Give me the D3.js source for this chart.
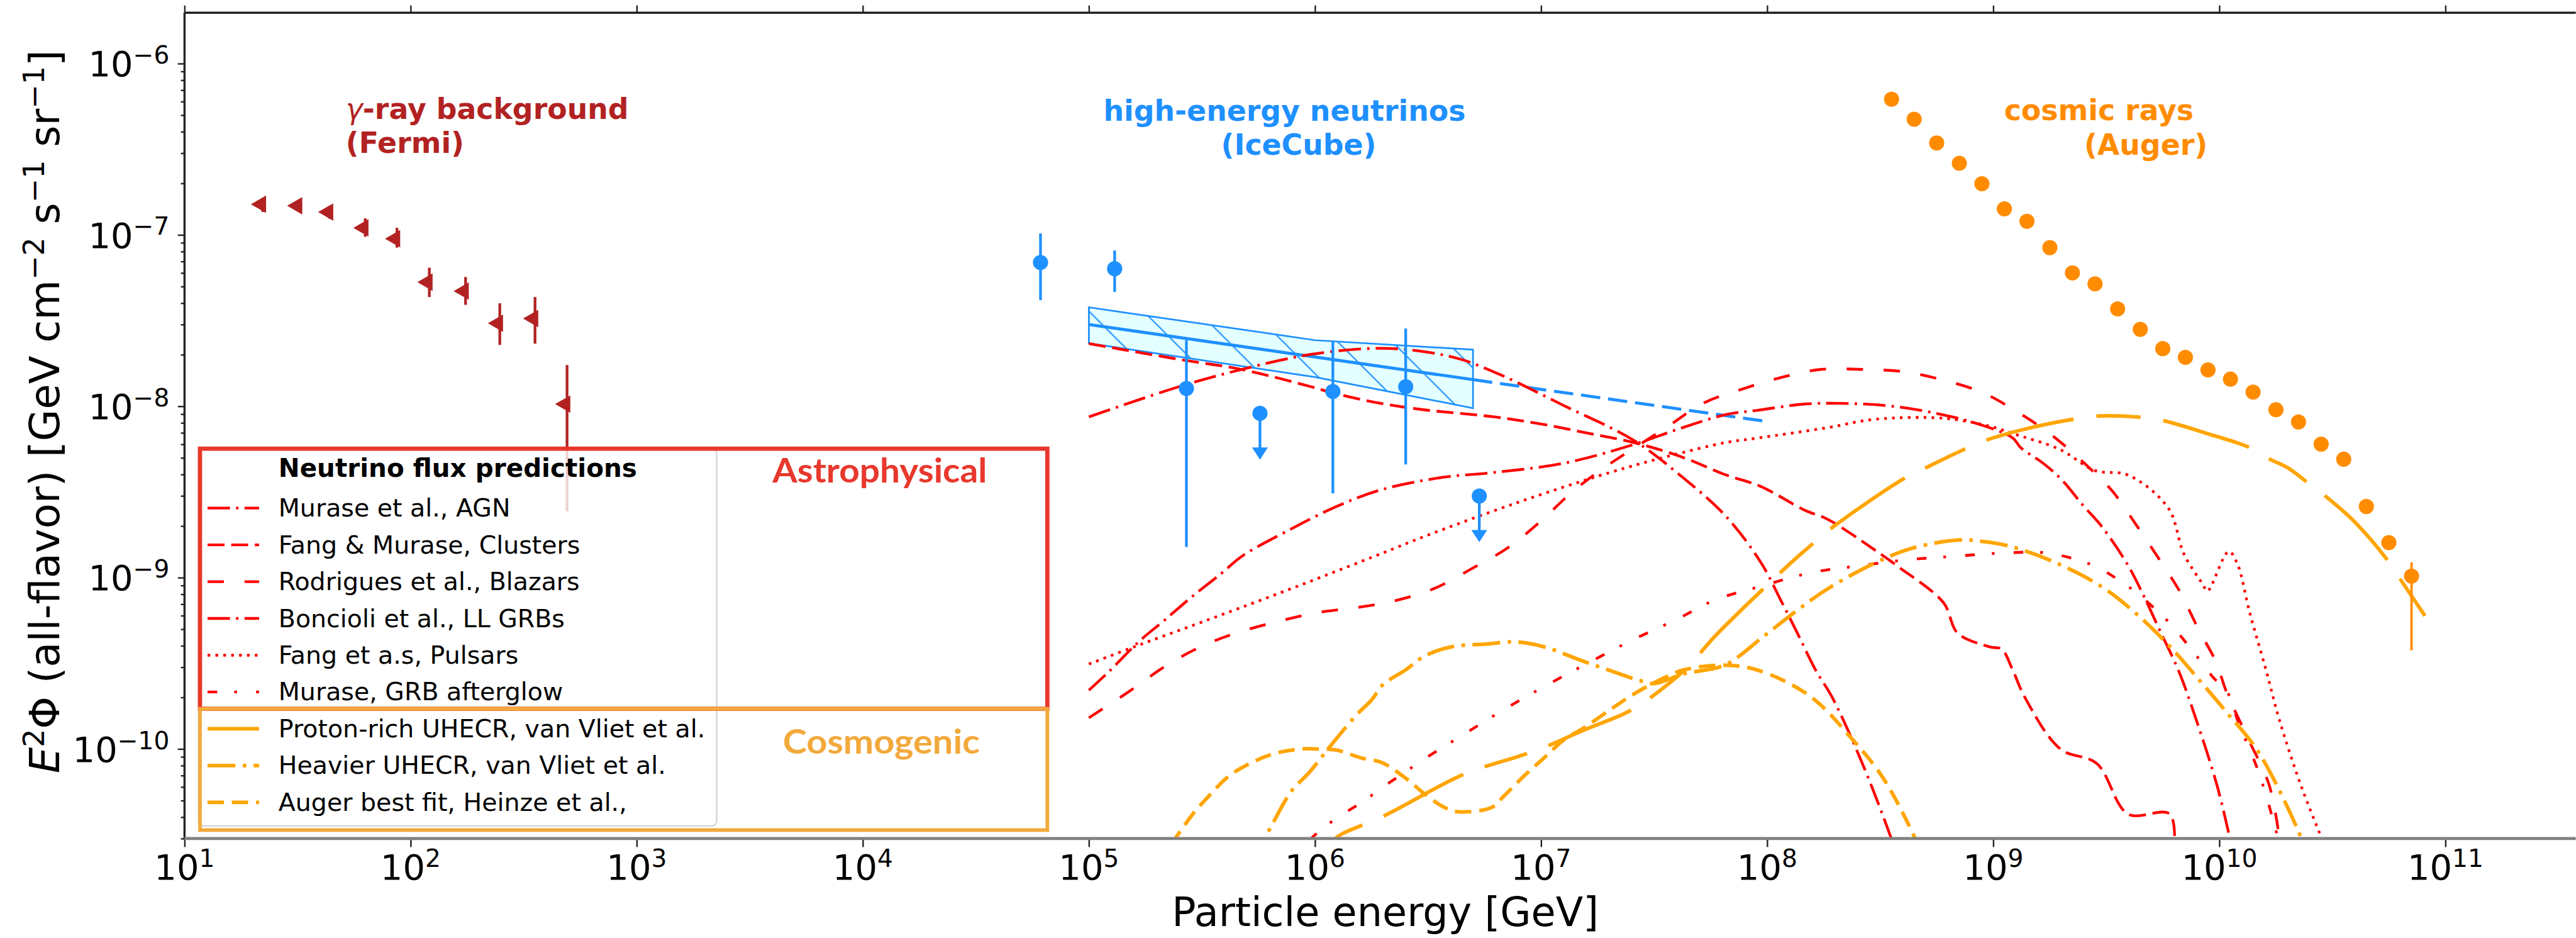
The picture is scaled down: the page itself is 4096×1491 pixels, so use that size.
<!DOCTYPE html>
<html>
<head>
<meta charset="utf-8">
<script src="https://cdn.jsdelivr.net/npm/d3@7/dist/d3.min.js"></script>
<style>
html, body { margin: 0; padding: 0; background: #ffffff; overflow: hidden; }
svg { display: block; }
</style>
</head>
<body>
<svg id="chart"></svg>
<script>
// ---------------------------------------------------------------
// Data: energies in GeV, fluxes E^2 Phi in GeV cm^-2 s^-1 sr^-1
// ---------------------------------------------------------------
const xTickExponents = [1, 2, 3, 4, 5, 6, 7, 8, 9, 10, 11];
const yTickExponents = [-10, -9, -8, -7, -6];

// Fermi isotropic gamma-ray background
const fermiE    = [22.2, 32.1, 44.0, 63.0, 87.0, 121, 175, 248, 355, 492];
const fermiFlux = [1.51e-7, 1.48e-7, 1.36e-7, 1.10e-7, 9.5e-8, 5.3e-8, 4.7e-8, 3.05e-8, 3.25e-8, 1.03e-8];
const fermiHi   = [1.64e-7, 1.60e-7, 1.48e-7, 1.25e-7, 1.10e-7, 6.44e-8, 5.68e-8, 3.99e-8, 4.34e-8, 1.74e-8];
const fermiLo   = [1.36e-7, 1.36e-7, 1.24e-7, 9.75e-8, 8.43e-8, 4.34e-8, 3.91e-8, 2.28e-8, 2.32e-8, 2.43e-9];

// IceCube high-energy starting events (upper limits flagged)
const icE     = [6.11e4, 1.30e5, 2.70e5, 5.71e5, 1.20e6, 2.52e6, 5.33e6];
const icFlux  = [6.90e-8, 6.35e-8, 1.27e-8, 9.10e-9, 1.22e-8, 1.30e-8, 2.99e-9];
const icHi    = [1.02e-7, 8.11e-8, 2.43e-8, null, 2.39e-8, 2.84e-8, null];
const icLo    = [4.16e-8, 4.65e-8, 1.51e-9, 4.88e-9, 3.10e-9, 4.58e-9, 1.61e-9];
const icUpper = [false, false, false, true, false, false, true];

// IceCube power-law fit band and its extrapolation
const bandE     = [1e5, 1e6, 5e6];
const bandUpper = [3.78e-8, 2.43e-8, 2.14e-8];
const bandLower = [2.33e-8, 1.48e-8, 9.75e-9];
const fitE      = [1e5, 5e6];
const fitFlux   = [3.0e-8, 1.43e-8];
const extE      = [5e6, 1e8];
const extFlux   = [1.43e-8, 8.15e-9];

// Pierre Auger cosmic-ray spectrum
const augerE    = [3.55e8, 4.47e8, 5.62e8, 7.08e8, 8.91e8, 1.12e9, 1.41e9, 1.78e9, 2.24e9, 2.82e9, 3.55e9, 4.47e9,
                   5.62e9, 7.08e9, 8.91e9, 1.12e10, 1.41e10, 1.78e10, 2.24e10, 2.82e10, 3.55e10, 4.47e10, 5.62e10, 7.08e10];
const augerFlux = [6.19e-7, 4.73e-7, 3.44e-7, 2.62e-7, 1.99e-7, 1.42e-7, 1.20e-7, 8.43e-8, 6.00e-8, 5.18e-8, 3.70e-8, 2.81e-8,
                   2.17e-8, 1.93e-8, 1.63e-8, 1.44e-8, 1.21e-8, 9.55e-9, 8.09e-9, 6.01e-9, 4.91e-9, 2.60e-9, 1.60e-9, 1.02e-9];
const augerHi   = [null, null, null, null, null, null, null, null, null, null, null, null,
                   null, null, null, null, null, null, null, null, null, null, null, 1.23e-9];
const augerLo   = [null, null, null, null, null, null, null, null, null, null, null, null,
                   null, null, null, null, null, null, null, null, null, null, null, 3.76e-10];

// Astrophysical neutrino flux predictions
const agnE    = [1.00e5, 2.50e5, 4.74e5, 9.62e5, 1.95e6, 3.05e6, 4.36e6, 6.67e6, 1.26e7, 2.56e7, 4.11e7, 6.59e7,
                 9.40e7, 1.15e8, 1.36e8, 1.64e8, 1.94e8, 2.63e8, 3.52e8, 3.98e8];
const agnFlux = [8.67e-9, 1.30e-8, 1.64e-8, 2.01e-8, 2.18e-8, 2.08e-8, 1.89e-8, 1.52e-8, 1.01e-8, 6.35e-9, 3.97e-9, 2.27e-9,
                 1.22e-9, 7.36e-10, 4.75e-10, 2.88e-10, 2.00e-10, 8.3e-11, 3.07e-11, 1.9e-11];

const clustersE    = [1.00e5, 2.62e5, 4.74e5, 9.62e5, 1.22e6, 1.95e6, 3.05e6, 6.21e6, 9.95e6, 1.60e7, 2.56e7, 4.11e7,
                      6.59e7, 9.40e7, 1.46e8, 1.85e8, 2.97e8, 3.76e8, 6.03e8, 6.95e8, 9.68e8, 1.09e9, 1.22e9, 1.38e9,
                      1.98e9, 2.87e9, 3.95e9, 6.04e9, 6.21e9];
const clustersFlux = [2.32e-8, 1.86e-8, 1.64e-8, 1.30e-8, 1.19e-8, 1.04e-8, 9.53e-9, 8.67e-9, 7.89e-9, 6.98e-9, 6.15e-9, 5.11e-9,
                      3.97e-9, 3.40e-9, 2.48e-9, 2.19e-9, 1.46e-9, 1.17e-9, 7.13e-10, 4.75e-10, 3.94e-10, 3.82e-10, 2.88e-10, 2.00e-10,
                      1.00e-10, 8.22e-11, 4.16e-11, 4.16e-11, 2.0e-11];

const blazarsE    = [1.00e5, 1.51e5, 2.15e5, 3.11e5, 4.51e5, 6.81e5, 1.03e6, 1.55e6, 2.29e6, 3.39e6, 5.01e6, 7.11e6,
                     9.95e6, 1.35e7, 1.84e7, 3.66e7, 5.20e7, 7.76e7, 1.15e8, 1.72e8, 2.64e8, 4.04e8, 6.03e8, 8.99e8,
                     1.29e9, 1.83e9, 2.81e9, 3.37e9, 4.26e9, 5.40e9, 6.67e9, 8.05e9, 9.72e9, 1.07e10, 1.34e10, 1.66e10, 1.84e10];
const blazarsFlux = [1.52e-10, 2.17e-10, 3.01e-10, 3.94e-10, 4.76e-10, 5.53e-10, 6.25e-10, 6.70e-10, 7.36e-10, 8.67e-10, 1.14e-9, 1.49e-9,
                     2.13e-9, 3.10e-9, 4.25e-9, 7.66e-9, 1.04e-8, 1.26e-8, 1.47e-8, 1.64e-8, 1.64e-8, 1.59e-8, 1.42e-8, 1.20e-8,
                     9.20e-9, 6.73e-9, 4.08e-9, 3.19e-9, 2.06e-9, 1.29e-9, 8.34e-10, 5.06e-10, 3.17e-10, 2.19e-10, 1.15e-10, 6.18e-11, 3.07e-11];

const llgrbE    = [1.00e5, 1.23e5, 1.68e5, 2.15e5, 2.87e5, 3.83e5, 4.74e5, 7.59e5, 1.22e6, 1.95e6, 3.68e6, 6.21e6,
                   1.26e7, 2.56e7, 4.11e7, 6.59e7, 9.12e7, 1.46e8, 2.08e8, 3.34e8, 5.36e8, 8.61e8, 1.22e9, 1.32e9,
                   1.67e9, 2.01e9, 2.49e9, 3.01e9, 3.96e9, 4.68e9, 5.46e9, 6.59e9, 7.89e9, 9.75e9, 1.11e10];
const llgrbFlux = [2.20e-10, 2.84e-10, 4.28e-10, 5.61e-10, 7.78e-10, 1.05e-9, 1.33e-9, 1.88e-9, 2.57e-9, 3.25e-9, 3.85e-9, 4.11e-9,
                   4.65e-9, 5.97e-9, 7.41e-9, 8.95e-9, 9.48e-9, 1.03e-8, 1.04e-8, 1.01e-8, 9.20e-9, 7.87e-9, 6.53e-9, 5.75e-9,
                   4.63e-9, 3.72e-9, 2.65e-9, 2.00e-9, 1.17e-9, 7.59e-10, 4.90e-10, 2.88e-10, 1.49e-10, 6.18e-11, 3.07e-11];

const pulsarsE    = [1.00e5, 1.68e5, 3.11e5, 7.10e5, 1.99e6, 3.05e6, 7.85e6, 2.02e7, 3.66e7, 6.59e7, 9.12e7, 1.85e8,
                     2.96e8, 6.03e8, 9.68e8, 1.22e9, 1.97e9, 2.81e9, 3.96e9, 5.93e9, 6.98e9, 8.45e9, 8.85e9, 1.10e10,
                     1.20e10, 1.36e10, 1.61e10, 1.84e10, 2.29e10, 2.82e10];
const pulsarsFlux = [3.13e-10, 4.06e-10, 5.46e-10, 8.20e-10, 1.39e-9, 1.74e-9, 2.74e-9, 4.11e-9, 5.11e-9, 6.15e-9, 6.53e-9, 7.50e-9,
                     8.38e-9, 8.51e-9, 7.64e-9, 6.93e-9, 5.60e-9, 4.22e-9, 3.96e-9, 2.56e-9, 1.37e-9, 9.14e-10, 8.34e-10, 1.42e-9,
                     1.21e-9, 6.31e-10, 2.88e-10, 1.49e-10, 6.18e-11, 3.07e-11];

const afterglowE    = [9.46e5, 1.09e6, 1.32e6, 1.63e6, 1.99e6, 2.42e6, 3.09e6, 4.66e6, 7.11e6, 1.08e7, 1.64e7, 2.55e7,
                       3.96e7, 5.85e7, 9.40e7, 1.57e8, 2.52e8, 4.14e8, 6.64e8, 1.09e9, 1.75e9, 2.81e9, 3.30e9, 4.21e9,
                       6.00e9, 6.82e9, 8.17e9, 9.18e9, 1.12e10, 1.20e10, 1.49e10, 1.75e10, 1.84e10];
const afterglowFlux = [2.94e-11, 3.47e-11, 4.14e-11, 4.93e-11, 5.97e-11, 7.11e-11, 8.85e-11, 1.24e-10, 1.75e-10, 2.39e-10, 3.21e-10, 4.34e-10,
                       5.69e-10, 7.38e-10, 8.91e-10, 1.07e-9, 1.17e-9, 1.27e-9, 1.33e-9, 1.39e-9, 1.39e-9, 1.17e-9, 1.04e-9, 8.34e-10,
                       5.47e-10, 4.48e-10, 3.32e-10, 2.71e-10, 2.00e-10, 1.49e-10, 7.36e-11, 3.64e-11, 2.82e-11];

// Cosmogenic neutrino flux predictions
const protonE    = [1.21e6, 1.32e6, 1.99e6, 4.16e6, 5.22e6, 8.04e6, 1.01e7, 1.55e7, 2.34e7, 2.88e7, 4.35e7, 5.85e7,
                    9.18e7, 1.30e8, 1.55e8, 1.85e8, 3.94e8, 4.88e8, 7.38e8, 9.25e8, 1.47e9, 2.24e9, 2.85e9, 4.47e9,
                    5.65e9, 8.85e9, 1.36e10, 1.67e10, 2.02e10, 2.44e10, 2.99e10, 3.96e10, 5.58e10, 6.43e10, 8.24e10];
const protonFlux = [2.95e-11, 3.20e-11, 4.03e-11, 6.75e-11, 7.62e-11, 9.10e-11, 1.01e-10, 1.29e-10, 1.61e-10, 1.89e-10, 2.92e-10, 4.52e-10,
                    8.11e-10, 1.25e-9, 1.53e-9, 1.87e-9, 3.72e-9, 4.29e-9, 5.58e-9, 6.32e-9, 7.50e-9, 8.38e-9, 8.77e-9, 8.63e-9,
                    8.24e-9, 6.93e-9, 5.75e-9, 4.92e-9, 4.35e-9, 3.61e-9, 2.94e-9, 2.12e-9, 1.25e-9, 9.44e-10, 5.82e-10];

const heavierE    = [5.77e5, 6.53e5, 7.85e5, 9.46e5, 1.19e6, 1.52e6, 1.79e6, 1.99e6, 2.54e6, 3.05e6, 3.99e6, 5.78e6,
                     7.40e6, 8.55e6, 1.07e7, 1.49e7, 2.11e7, 2.82e7, 3.19e7, 4.29e7, 6.46e7, 9.79e7, 1.33e8, 1.85e8,
                     2.97e8, 4.34e8, 7.13e8, 8.81e8, 1.17e9, 1.87e9, 3.01e9, 4.26e9, 6.07e9, 8.36e9, 1.08e10, 1.49e10, 2.29e10, 2.43e10];
const heavierFlux = [2.72e-11, 3.71e-11, 5.65e-11, 7.33e-11, 1.07e-10, 1.57e-10, 1.95e-10, 2.36e-10, 2.92e-10, 3.48e-10, 3.94e-10, 4.10e-10,
                     4.22e-10, 4.16e-10, 3.89e-10, 3.30e-10, 2.81e-10, 2.48e-10, 2.41e-10, 2.75e-10, 3.08e-10, 4.61e-10, 6.31e-10, 8.59e-10,
                     1.21e-9, 1.48e-9, 1.66e-9, 1.63e-9, 1.53e-9, 1.23e-9, 8.87e-10, 6.21e-10, 3.94e-10, 2.43e-10, 1.63e-10, 9.59e-11, 3.07e-11, 2.40e-11];

const augerFitE    = [2.29e5, 2.87e5, 3.38e5, 4.15e5, 5.21e5, 6.53e5, 8.71e5, 1.03e6, 1.24e6, 1.61e6, 1.99e6, 2.59e6,
                      3.00e6, 3.68e6, 4.25e6, 6.03e6, 6.82e6, 8.38e6, 1.03e7, 1.26e7, 1.55e7, 2.03e7, 2.60e7, 3.54e7,
                      4.35e7, 6.46e7, 9.12e7, 1.55e8, 2.38e8, 3.26e8, 4.48e8, 4.83e8];
const augerFitFlux = [2.72e-11, 4.14e-11, 5.28e-11, 6.93e-11, 8.28e-11, 9.35e-11, 1.00e-10, 1.00e-10, 9.86e-11, 8.85e-11, 8.30e-11, 6.56e-11,
                      5.57e-11, 4.61e-11, 4.31e-11, 4.55e-11, 5.28e-11, 6.93e-11, 8.85e-11, 1.13e-10, 1.33e-10, 1.70e-10, 2.11e-10, 2.62e-10,
                      2.91e-10, 3.08e-10, 2.88e-10, 2.03e-10, 1.14e-10, 6.76e-11, 3.07e-11, 2.40e-11];

const legendTitle  = "Neutrino flux predictions";
const legendLabels = ["Murase et al., AGN", "Fang & Murase, Clusters", "Rodrigues et al., Blazars",
                      "Boncioli et al., LL GRBs", "Fang et a.s, Pulsars", "Murase, GRB afterglow",
                      "Proton-rich UHECR, van Vliet et al.", "Heavier UHECR, van Vliet et al.", "Auger best fit, Heinze et al.,"];

// ---------------------------------------------------------------
// Styling
// ---------------------------------------------------------------
const RED = "#ff0000", ORANGE = "#ffa500", BLUE = "#1e90ff", FERMI = "#b22222", AUGER = "#ff8c00";
const FONT = "'DejaVu Sans', 'Noto Sans', sans-serif";

const styles = {
  agn:       { color: RED,    width: 4.5, dash: [37, 10, 4, 10] },
  clusters:  { color: RED,    width: 4.5, dash: [28, 11] },
  blazars:   { color: RED,    width: 4.5, dash: [27, 34] },
  llgrb:     { color: RED,    width: 4.5, dash: [37, 10, 4, 10] },
  pulsars:   { color: RED,    width: 4.5, dash: [4.5, 8.5] },
  afterglow: { color: RED,    width: 4.5, dash: [16, 28, 4.5, 31.5] },
  proton:    { color: ORANGE, width: 6,   dash: [148, 38, 73, 38], anchorE: 5.65e9 },
  heavier:   { color: ORANGE, width: 6,   dash: [46, 12, 6, 12], anchorE: 5.48e8 },
  augerFit:  { color: ORANGE, width: 6,   dash: [27, 13], anchorE: 4.16e6 }
};

const redSeries = [
  { E: agnE, F: agnFlux, st: styles.agn },
  { E: clustersE, F: clustersFlux, st: styles.clusters },
  { E: blazarsE, F: blazarsFlux, st: styles.blazars },
  { E: llgrbE, F: llgrbFlux, st: styles.llgrb },
  { E: pulsarsE, F: pulsarsFlux, st: styles.pulsars },
  { E: afterglowE, F: afterglowFlux, st: styles.afterglow }
];
const orangeSeries = [
  { E: protonE, F: protonFlux, st: styles.proton },
  { E: heavierE, F: heavierFlux, st: styles.heavier },
  { E: augerFitE, F: augerFitFlux, st: styles.augerFit }
];
const legendStyles = [styles.agn, styles.clusters, styles.blazars, styles.llgrb, styles.pulsars,
                      styles.afterglow, styles.proton, styles.heavier, styles.augerFit];

// ---------------------------------------------------------------
// Canvas and scales (drawn in a 4249 x 1547 frame, scaled to the window)
// ---------------------------------------------------------------
const W = 4249, H = 1547;
const svg = d3.select("#chart")
  .attr("width", 4096).attr("height", 1491)
  .attr("viewBox", `0 0 ${W} ${H}`)
  .attr("font-family", FONT);

svg.append("rect").attr("width", W).attr("height", H).attr("fill", "#ffffff");

const plot = { left: 304, top: 21, bottom: 1383 };
const x = d3.scaleLog().domain([10, 1e11]).range([304, 4034]);
const y = d3.scaleLog().domain([3e-11, 1.98e-6]).range([plot.bottom, plot.top]);

const defs = svg.append("defs");
defs.append("clipPath").attr("id", "plotClip").append("rect")
  .attr("x", plot.left).attr("y", plot.top)
  .attr("width", W - plot.left).attr("height", plot.bottom - plot.top);

const hatch = defs.append("pattern").attr("id", "hatch")
  .attr("patternUnits", "userSpaceOnUse")
  .attr("x", 22.8).attr("y", 0).attr("width", 90).attr("height", 90);
hatch.append("path")
  .attr("d", "M-10,-10L100,100M80,-10L100,10M-10,80L10,100")
  .attr("stroke", BLUE).attr("stroke-width", 2.2).attr("fill", "none");

// helper: text with superscripts
function richText(sel, segs, shift) {
  let raised = false;
  segs.forEach(s => {
    const ts = sel.append("tspan").text(s.t);
    if (s.sup) {
      ts.attr("font-size", "70%");
      if (!raised) { ts.attr("dy", -shift); raised = true; }
    } else if (raised) {
      ts.attr("dy", shift); raised = false;
    }
    if (s.italic) ts.attr("font-style", "italic");
  });
}
const pow10 = e => ([{ t: "10" }, { t: String(e).replace("-", "\u2212"), sup: true }]);

// ---------------------------------------------------------------
// Axes
// ---------------------------------------------------------------
const xDecades = xTickExponents.map(e => Math.pow(10, e));
const yDecades = yTickExponents.map(e => Math.pow(10, e));
const yMinor = [];
for (let e = -11; e <= -6; e++) for (let m = 2; m <= 9; m++) {
  const v = m * Math.pow(10, e);
  if (v >= y.domain()[0] && v <= y.domain()[1]) yMinor.push(v);
}

const gxb = svg.append("g").attr("transform", `translate(0,${plot.bottom})`)
  .call(d3.axisBottom(x).tickValues(xDecades).tickSize(14).tickSizeOuter(0).tickFormat(""));
const gxt = svg.append("g").attr("transform", `translate(0,${plot.top})`)
  .call(d3.axisTop(x).tickValues(xDecades).tickSize(12).tickSizeOuter(0).tickFormat(""));
const gyl = svg.append("g").attr("transform", `translate(${plot.left},0)`)
  .call(d3.axisLeft(y).tickValues(yDecades).tickSize(11).tickSizeOuter(0).tickFormat(""));
const gym = svg.append("g").attr("transform", `translate(${plot.left},0)`)
  .call(d3.axisLeft(y).tickValues(yMinor).tickSize(6).tickSizeOuter(0).tickFormat(""));
[gxb, gxt, gyl, gym].forEach(g => {
  g.select(".domain").remove();
  g.selectAll(".tick line").attr("stroke", "#222").attr("stroke-width", 2.5);
});

// spines
svg.append("line").attr("x1", plot.left).attr("x2", W).attr("y1", plot.top).attr("y2", plot.top)
  .attr("stroke", "#222").attr("stroke-width", 3.5);
svg.append("line").attr("x1", plot.left).attr("x2", plot.left).attr("y1", plot.top).attr("y2", plot.bottom)
  .attr("stroke", "#222").attr("stroke-width", 3.5);

// tick labels
xTickExponents.forEach(e => {
  const t = svg.append("text").attr("x", x(Math.pow(10, e))).attr("y", 1451)
    .attr("text-anchor", "middle").attr("font-size", 58).attr("fill", "#000");
  richText(t, pow10(e), 21);
});
yTickExponents.forEach(e => {
  const t = svg.append("text").attr("x", 279).attr("y", y(Math.pow(10, e)) + 21)
    .attr("text-anchor", "end").attr("font-size", 58).attr("fill", "#000");
  richText(t, pow10(e), 21);
});

// axis titles
svg.append("text").attr("x", 2285).attr("y", 1527).attr("text-anchor", "middle")
  .attr("font-size", 66).attr("fill", "#000").text("Particle energy [GeV]");
const yl = svg.append("text").attr("transform", "translate(97,679) rotate(-90)")
  .attr("text-anchor", "middle").attr("font-size", 68).attr("fill", "#000");
richText(yl, [
  { t: "E", italic: true }, { t: "2", sup: true }, { t: "\u03A6 (all-flavor) [GeV cm" },
  { t: "\u22122", sup: true }, { t: " s" }, { t: "\u22121", sup: true }, { t: " sr" },
  { t: "\u22121", sup: true }, { t: "]" }
], 25);

// ---------------------------------------------------------------
// Plot content
// ---------------------------------------------------------------
const content = svg.append("g").attr("clip-path", "url(#plotClip)");

// IceCube fit band
const bandData = bandE.map((e, i) => ({ e, lo: bandLower[i], hi: bandUpper[i] }));
const bandArea = d3.area().x(d => x(d.e)).y0(d => y(d.lo)).y1(d => y(d.hi));
content.append("path").datum(bandData).attr("d", bandArea).attr("fill", "#e4ffff");
content.append("path").datum(bandData).attr("d", bandArea).attr("fill", "url(#hatch)");
content.append("path").datum(bandData).attr("d", bandArea).attr("fill", "none")
  .attr("stroke", BLUE).attr("stroke-width", 2.8);

const straight = d3.line().x(d => x(d[0])).y(d => y(d[1]));
content.append("path").datum(fitE.map((e, i) => [e, fitFlux[i]])).attr("d", straight)
  .attr("fill", "none").attr("stroke", BLUE).attr("stroke-width", 5);
content.append("path").datum(extE.map((e, i) => [e, extFlux[i]])).attr("d", straight)
  .attr("fill", "none").attr("stroke", BLUE).attr("stroke-width", 5).attr("stroke-dasharray", "32 13");

// model curves
const smooth = d3.line().x(d => x(d[0])).y(d => y(d[1])).curve(d3.curveCatmullRom.alpha(0.5));
function alignDash(path, period, targetX) {
  const node = path.node();
  let lo = 0, hi = node.getTotalLength();
  for (let i = 0; i < 40; i++) {
    const mid = (lo + hi) / 2;
    if (node.getPointAtLength(mid).x < targetX) lo = mid; else hi = mid;
  }
  path.attr("stroke-dashoffset", (period - (lo % period)) % period);
}
function drawCurve(g, s) {
  const p = g.append("path").datum(s.E.map((e, i) => [e, s.F[i]])).attr("d", smooth)
    .attr("fill", "none").attr("stroke", s.st.color).attr("stroke-width", s.st.width)
    .attr("stroke-dasharray", s.st.dash.join(" ")).attr("stroke-linejoin", "round");
  if (s.st.anchorE) alignDash(p, d3.sum(s.st.dash), x(s.st.anchorE));
}
redSeries.forEach(s => drawCurve(content, s));
orangeSeries.forEach(s => drawCurve(content, s));

// Fermi points
const fermi = fermiE.map((e, i) => ({ e, f: fermiFlux[i], hi: fermiHi[i], lo: fermiLo[i] }));
content.selectAll(".fermiErr").data(fermi).join("line")
  .attr("x1", d => x(d.e)).attr("x2", d => x(d.e)).attr("y1", d => y(d.hi)).attr("y2", d => y(d.lo))
  .attr("stroke", FERMI).attr("stroke-width", 4.5);
content.selectAll(".fermiPt").data(fermi).join("path")
  .attr("d", d3.symbol(d3.symbolTriangle, 360))
  .attr("transform", d => `translate(${x(d.e) - 3},${y(d.f)}) rotate(-90)`)
  .attr("fill", FERMI);

// IceCube points
const ic = icE.map((e, i) => ({ e, f: icFlux[i], hi: icHi[i], lo: icLo[i], ul: icUpper[i] }));
content.selectAll(".icErr").data(ic.filter(d => !d.ul)).join("line")
  .attr("x1", d => x(d.e)).attr("x2", d => x(d.e)).attr("y1", d => y(d.hi)).attr("y2", d => y(d.lo))
  .attr("stroke", BLUE).attr("stroke-width", 4.5);
const ul = ic.filter(d => d.ul);
content.selectAll(".icUl").data(ul).join("line")
  .attr("x1", d => x(d.e)).attr("x2", d => x(d.e)).attr("y1", d => y(d.f)).attr("y2", d => y(d.lo) - 18)
  .attr("stroke", BLUE).attr("stroke-width", 4.5);
content.selectAll(".icHead").data(ul).join("path")
  .attr("d", d => { const cx = x(d.e), ty = y(d.lo); return `M${cx - 13},${ty - 20}L${cx + 13},${ty - 20}L${cx},${ty}Z`; })
  .attr("fill", BLUE);
content.selectAll(".icPt").data(ic).join("circle")
  .attr("cx", d => x(d.e)).attr("cy", d => y(d.f)).attr("r", 12.5).attr("fill", BLUE);

// Auger points
const auger = augerE.map((e, i) => ({ e, f: augerFlux[i], hi: augerHi[i], lo: augerLo[i] }));
content.selectAll(".augErr").data(auger.filter(d => d.hi !== null)).join("line")
  .attr("x1", d => x(d.e)).attr("x2", d => x(d.e)).attr("y1", d => y(d.hi)).attr("y2", d => y(d.lo))
  .attr("stroke", AUGER).attr("stroke-width", 4);
content.selectAll(".augPt").data(auger).join("circle")
  .attr("cx", d => x(d.e)).attr("cy", d => y(d.f)).attr("r", 12.5).attr("fill", AUGER);

// bottom spine (drawn over curve ends)
svg.append("line").attr("x1", plot.left).attr("x2", W).attr("y1", plot.bottom).attr("y2", plot.bottom)
  .attr("stroke", "#808080").attr("stroke-width", 5);

// data set annotations
function label(lines, color) {
  lines.forEach(l => {
    const t = svg.append("text").attr("x", l.x).attr("y", l.y).attr("font-size", 47.5)
      .attr("font-weight", "bold").attr("fill", color);
    l.segs.forEach(s => {
      const ts = t.append("tspan").text(s.t);
      if (s.italic) ts.attr("font-style", "italic").attr("font-weight", "normal");
    });
  });
}
label([{ x: 570, y: 196, segs: [{ t: "\u03B3", italic: true }, { t: "-ray background" }] },
       { x: 570, y: 252, segs: [{ t: "(Fermi)" }] }], FERMI);
label([{ x: 1820, y: 199, segs: [{ t: "high-energy neutrinos" }] },
       { x: 2014, y: 255, segs: [{ t: "(IceCube)" }] }], BLUE);
label([{ x: 3306, y: 198, segs: [{ t: "cosmic rays" }] },
       { x: 3438, y: 255, segs: [{ t: "(Auger)" }] }], AUGER);

// ---------------------------------------------------------------
// Legend
// ---------------------------------------------------------------
const lg = svg.append("g");
lg.append("rect").attr("x", 327).attr("y", 741).attr("width", 855).attr("height", 621).attr("rx", 8)
  .attr("fill", "#ffffff").attr("fill-opacity", 0.8).attr("stroke", "#cccccc").attr("stroke-width", 2);
lg.append("text").attr("x", 459).attr("y", 786).attr("font-size", 42).attr("font-weight", "bold")
  .attr("fill", "#000").text(legendTitle);
legendLabels.forEach((txt, i) => {
  const base = 852 + i * 60.65;
  const st = legendStyles[i];
  lg.append("line").attr("x1", 342).attr("x2", 427).attr("y1", base - 14).attr("y2", base - 14)
    .attr("stroke", st.color).attr("stroke-width", st.width).attr("stroke-dasharray", st.dash.join(" "));
  lg.append("text").attr("x", 459).attr("y", base).attr("font-size", 41).attr("fill", "#000").text(txt);
});

// category boxes
const boxes = svg.append("g");
boxes.append("rect").attr("x", 329.5).attr("y", 740).attr("width", 1398).attr("height", 429)
  .attr("fill", "none").attr("stroke", "#e8382d").attr("stroke-width", 7);
boxes.append("rect").attr("x", 329.5).attr("y", 1169).attr("width", 1398).attr("height", 200)
  .attr("fill", "none").attr("stroke", "#f2a93b").attr("stroke-width", 6);
boxes.append("text").attr("x", 1274).attr("y", 796).attr("font-family", "Lato, 'DejaVu Sans', sans-serif")
  .attr("font-weight", "bold").attr("font-size", 56).attr("fill", "#e8382d")
  .attr("textLength", 354).attr("lengthAdjust", "spacingAndGlyphs").text("Astrophysical");
boxes.append("text").attr("x", 1291).attr("y", 1243).attr("font-family", "Lato, 'DejaVu Sans', sans-serif")
  .attr("font-weight", "bold").attr("font-size", 56).attr("fill", "#f2a93b")
  .attr("textLength", 325).attr("lengthAdjust", "spacingAndGlyphs").text("Cosmogenic");
</script>
</body>
</html>
